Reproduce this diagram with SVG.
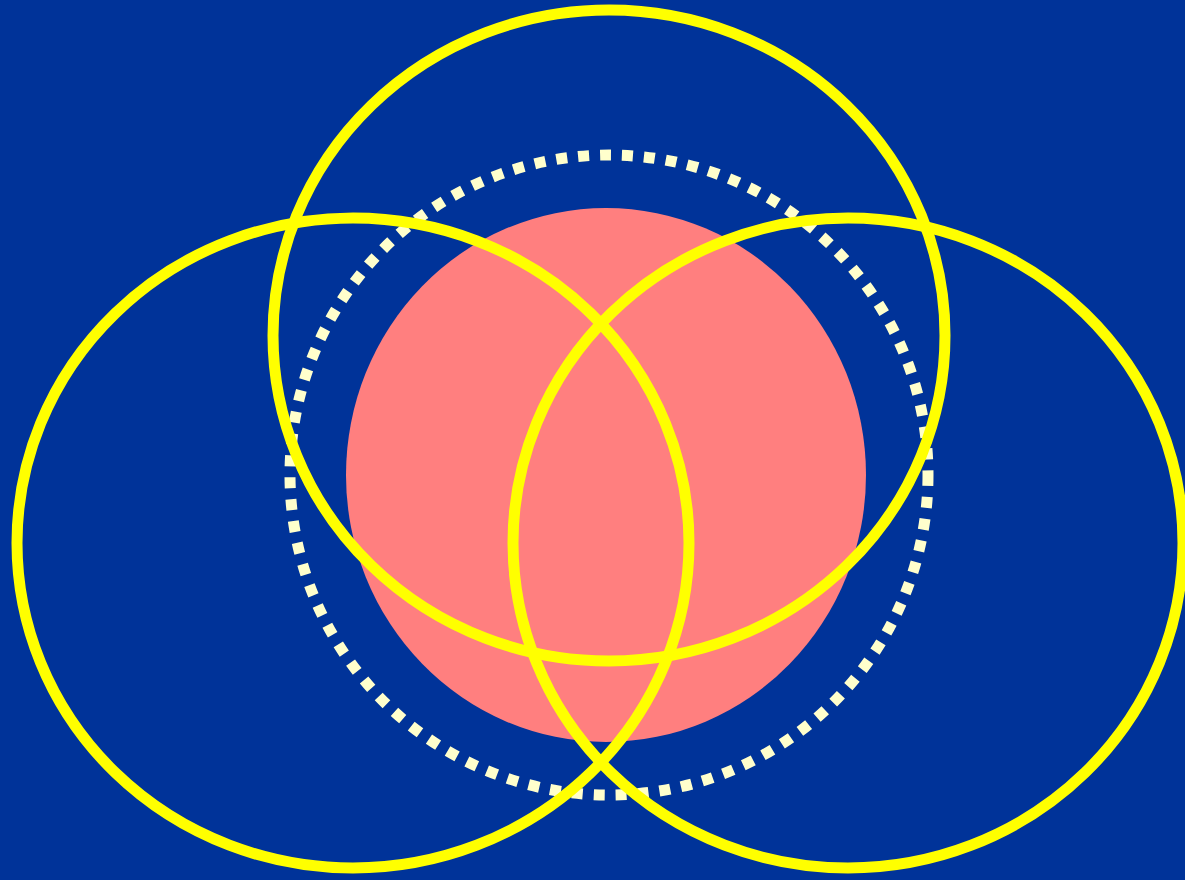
<svg xmlns="http://www.w3.org/2000/svg" width="1185" height="880" viewBox="0 0 1185 880">
<style>
.ring{fill:none;stroke:#FFFF00;stroke-width:11}
.dots{fill:none;stroke:#FFFFCC;stroke-width:11;stroke-dasharray:11 11}
</style>
<rect width="1185" height="880" fill="#003399"/>
<g id="core"><ellipse cx="606" cy="475" rx="260" ry="267" fill="#FF7F7F"/></g>
<g id="dotted"><ellipse class="dots" cx="609" cy="475" rx="319" ry="320"/></g>
<g id="top"><ellipse class="ring" cx="609" cy="335.5" rx="336" ry="325.5"/></g>
<g id="left"><ellipse class="ring" cx="353" cy="543" rx="336" ry="325"/></g>
<g id="right"><ellipse class="ring" cx="848" cy="543" rx="335" ry="325"/></g>
</svg>
